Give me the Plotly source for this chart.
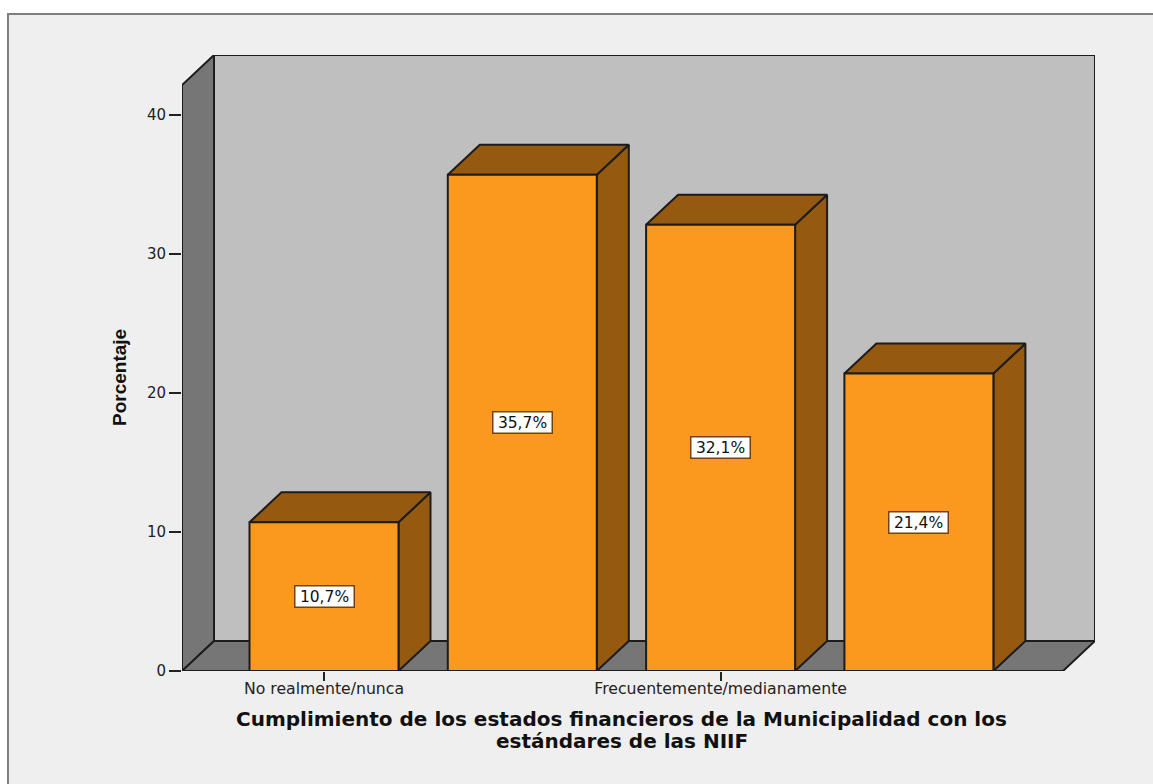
import plotly.graph_objects as go

categories = ["No realmente/nunca", "", "Frecuentemente/medianamente", ""]
values = [10.7, 35.7, 32.1, 21.4]
value_labels = ["10,7%", "35,7%", "32,1%", "21,4%"]
y_ticks = [0, 10, 20, 30, 40]
x_title_lines = ["Cumplimiento de los estados financieros de la Municipalidad con los",
                 "estándares de las NIIF"]
y_title = "Porcentaje"

W, H = 1153, 784
ML, MR, MT, MB = 182, 58, 55, 113
PW, PH = W - ML - MR, H - MT - MB
PX_X = 198.3          # pixels per category
PX_Y = 13.9           # pixels per percentage point
X0 = -(324 - ML) / PX_X
X1 = X0 + PW / PX_X
Y1 = PH / PX_Y
DX = 32 / PX_X        # oblique depth
DY = 30 / PX_Y
BAR_HALF = 74.5 / PX_X
WALL_TOP = Y1 - DY
FRONT_R = X1 - DX

EDGE = "#1c1c1c"
BAR = "#fb981e"
BAR_DARK = "#955a10"
WALL_BACK = "#bfbfbf"
WALL_DARK = "#767676"
BG = "#efefef"

fig = go.Figure()


def face(xs, ys, fill, width=2):
    fig.add_trace(go.Scatter(
        x=xs + xs[:1], y=ys + ys[:1], mode="lines", fill="toself",
        fillcolor=fill, line=dict(color=EDGE, width=width),
        hoverinfo="skip", showlegend=False, cliponaxis=False))


# back wall, side wall, floor
face([X0 + DX, X1, X1, X0 + DX], [DY, DY, Y1, Y1], WALL_BACK)
face([X0, X0 + DX, X0 + DX, X0], [0, DY, Y1, WALL_TOP], WALL_DARK)
face([X0, FRONT_R, X1, X0 + DX], [0, 0, DY, DY], WALL_DARK)

# bars: side, top, front
for i, v in enumerate(values):
    l, r = i - BAR_HALF, i + BAR_HALF
    face([r, r + DX, r + DX, r], [0, DY, v + DY, v], BAR_DARK)
    face([l, r, r + DX, l + DX], [v, v, v + DY, v + DY], BAR_DARK)
    face([l, r, r, l], [0, 0, v, v], BAR)

annotations = []
for i, (v, t) in enumerate(zip(values, value_labels)):
    annotations.append(dict(
        x=i, y=v / 2, xref="x", yref="y", text=t, showarrow=False,
        font=dict(family="DejaVu Sans", size=15.5, color="#111111"),
        bgcolor="#ffffff", bordercolor="#6e4510", borderwidth=1.5,
        width=58, height=20, borderpad=0, align="center", valign="middle"))

for line, py in zip(x_title_lines, [719, 741]):
    annotations.append(dict(
        x=(621.5 - ML) / PW, y=(H - MB - py) / PH, xref="paper", yref="paper",
        text=f"<b>{line}</b>", showarrow=False, xanchor="center", yanchor="middle",
        font=dict(family="DejaVu Sans", size=20, color="#111111")))

annotations.append(dict(
    x=(119 - ML) / PW, y=(H - MB - 378) / PH, xref="paper", yref="paper",
    text=f"<b>{y_title}</b>", showarrow=False, textangle=-90,
    xanchor="center", yanchor="middle",
    font=dict(family="Liberation Sans", size=19, color="#111111")))

fig.update_layout(
    width=W, height=H, autosize=False,
    margin=dict(l=ML, r=MR, t=MT, b=MB, pad=0),
    paper_bgcolor="#ffffff", plot_bgcolor="rgba(0,0,0,0)",
    showlegend=False, annotations=annotations,
    shapes=[dict(type="rect", xref="paper", yref="paper", layer="below",
                 x0=(8 - ML) / PW, x1=(W + 20 - ML) / PW,
                 y0=-(MB + 20) / PH, y1=(H - MB - 14) / PH,
                 fillcolor=BG, line=dict(color="#7f7f7f", width=2))],
    xaxis=dict(range=[X0, X1], tickmode="array", tickvals=[0, 2],
               ticktext=[categories[0], categories[2]], ticks="outside", ticklen=9,
               ticklabelstandoff=-6,
               tickcolor="#222222", tickwidth=1.5, showgrid=False, zeroline=False,
               showline=False, tickfont=dict(family="DejaVu Sans", size=15.7, color="#222222")),
    yaxis=dict(range=[0, Y1], tickmode="array", tickvals=y_ticks, ticks="outside",
               ticklen=12, tickcolor="#222222", tickwidth=1.5, showgrid=False,
               zeroline=False, showline=False,
               tickfont=dict(family="DejaVu Sans", size=15, color="#222222")),
)

fig.write_html("out.html", config={"displayModeBar": False},
               post_script="document.body.style.margin='0';document.body.style.overflow='hidden';")
